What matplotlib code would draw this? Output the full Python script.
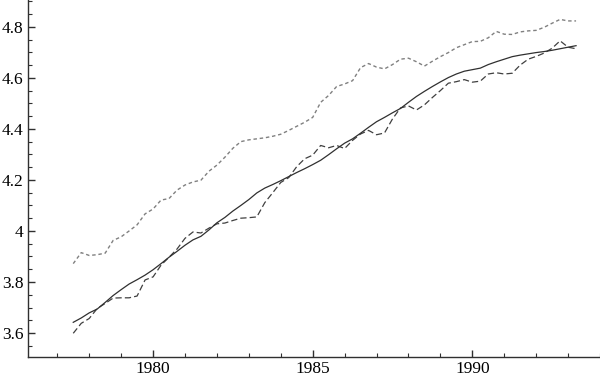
import numpy as np
import matplotlib
matplotlib.use("Agg")
import matplotlib.pyplot as plt
from matplotlib.ticker import MultipleLocator, FormatStrFormatter

# quarterly data, 1977.5 .. 1993.25
years = 1977.5 + 0.25 * np.arange(64)

upper = [3.872, 3.915, 3.904, 3.907, 3.913, 3.963, 3.977, 4.000, 4.024, 4.067,
         4.086, 4.121, 4.127, 4.160, 4.180, 4.192, 4.199, 4.234, 4.258, 4.289,
         4.324, 4.350, 4.357, 4.361, 4.365, 4.371, 4.379, 4.394, 4.410, 4.426,
         4.445, 4.504, 4.531, 4.566, 4.576, 4.589, 4.640, 4.656, 4.642, 4.635,
         4.652, 4.673, 4.677, 4.663, 4.646, 4.665, 4.683, 4.699, 4.718, 4.730,
         4.742, 4.743, 4.757, 4.782, 4.771, 4.770, 4.780, 4.784, 4.786, 4.798,
         4.814, 4.829, 4.823, 4.823]

actual = [3.599, 3.638, 3.657, 3.696, 3.716, 3.737, 3.738, 3.738, 3.745, 3.808,
          3.820, 3.866, 3.897, 3.929, 3.971, 3.996, 3.992, 4.011, 4.028, 4.031,
          4.041, 4.050, 4.052, 4.055, 4.111, 4.150, 4.190, 4.209, 4.252, 4.283,
          4.297, 4.335, 4.326, 4.335, 4.323, 4.355, 4.380, 4.394, 4.377, 4.384,
          4.439, 4.482, 4.490, 4.474, 4.494, 4.523, 4.550, 4.579, 4.585, 4.593,
          4.583, 4.587, 4.615, 4.620, 4.615, 4.618, 4.650, 4.673, 4.684, 4.697,
          4.716, 4.745, 4.720, 4.714]

trend = [3.642, 3.659, 3.679, 3.694, 3.720, 3.747, 3.770, 3.792, 3.809, 3.827,
         3.848, 3.872, 3.897, 3.920, 3.944, 3.965, 3.979, 4.004, 4.032, 4.053,
         4.078, 4.100, 4.123, 4.149, 4.168, 4.182, 4.197, 4.213, 4.229, 4.244,
         4.260, 4.277, 4.299, 4.322, 4.344, 4.361, 4.383, 4.406, 4.428, 4.445,
         4.463, 4.480, 4.504, 4.527, 4.547, 4.566, 4.584, 4.601, 4.615, 4.626,
         4.632, 4.638, 4.652, 4.663, 4.673, 4.683, 4.689, 4.694, 4.699, 4.703,
         4.708, 4.714, 4.720, 4.726]

plt.rcParams['font.family'] = ['Liberation Serif', 'DejaVu Serif']

fig = plt.figure(figsize=(6, 3.77), dpi=100)
ax = fig.add_axes([0.046, 0.053, 0.954, 0.947])

ax.plot(years, upper, color='#808080', lw=1.0, dashes=(2.5, 2))
ax.plot(years, actual, color='#404040', lw=0.9, dashes=(5, 2.5))
ax.plot(years, trend, color='#303030', lw=0.9)

ax.set_xlim(1976.07, 1994)
ax.set_ylim(3.506, 4.905)

for s in ['top', 'right']:
    ax.spines[s].set_visible(False)
for s in ['left', 'bottom']:
    ax.spines[s].set_color('#303030')
    ax.spines[s].set_linewidth(1.0)

ax.xaxis.set_major_locator(MultipleLocator(5))
ax.xaxis.set_minor_locator(MultipleLocator(1))
ax.yaxis.set_major_locator(MultipleLocator(0.2))
ax.yaxis.set_minor_locator(MultipleLocator(0.05))
ax.yaxis.set_major_formatter(FormatStrFormatter('%g'))
ax.xaxis.set_major_formatter(FormatStrFormatter('%d'))

ax.tick_params(which='major', direction='in', length=5, width=1, color='#303030',
               labelsize=12.5, pad=3)
ax.tick_params(which='minor', direction='in', length=3, width=0.8, color='#303030')

fig.savefig('out.png', dpi=100)
